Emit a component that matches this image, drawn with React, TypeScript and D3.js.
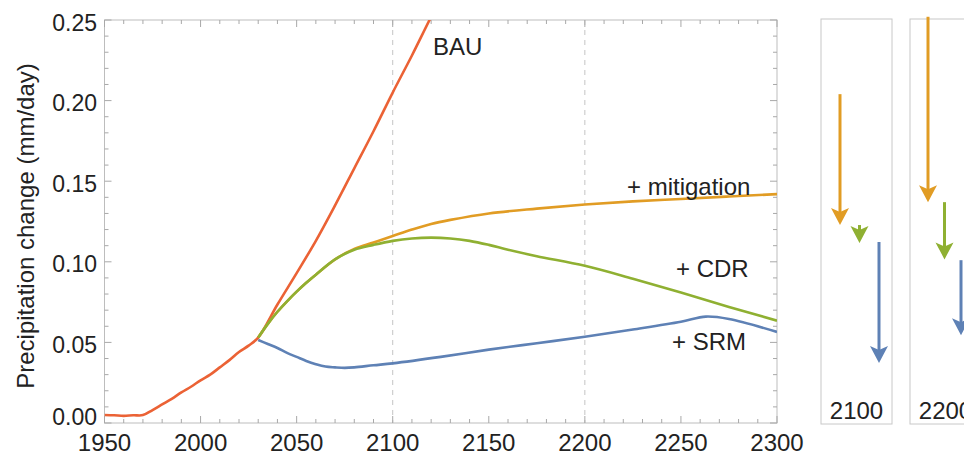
import React from "react";
import * as d3 from "d3";

// ---------- data ----------
const bauYears = [1950, 1955, 1960, 1965, 1970, 1975, 1980, 1985, 1990, 1995, 2000, 2005, 2010, 2015, 2020, 2025, 2030, 2040, 2050, 2060, 2070, 2080, 2090, 2100, 2110, 2120, 2130];
const bauValues = [0.005, 0.0048, 0.0044, 0.0048, 0.0049, 0.008, 0.0115, 0.015, 0.019, 0.0225, 0.0265, 0.030, 0.0345, 0.039, 0.044, 0.048, 0.053, 0.0735, 0.093, 0.113, 0.135, 0.158, 0.181, 0.205, 0.228, 0.252, 0.275];

const mitYears = [2030, 2035, 2040, 2045, 2050, 2055, 2060, 2070, 2080, 2090, 2100, 2110, 2120, 2130, 2150, 2175, 2200, 2225, 2250, 2275, 2300];
const mitValues = [0.053, 0.0615, 0.069, 0.0755, 0.0815, 0.087, 0.092, 0.1015, 0.108, 0.112, 0.116, 0.120, 0.1235, 0.126, 0.130, 0.133, 0.1355, 0.1375, 0.139, 0.1405, 0.142];

const cdrYears = [2030, 2035, 2040, 2045, 2050, 2055, 2060, 2070, 2080, 2090, 2100, 2110, 2120, 2130, 2140, 2150, 2160, 2175, 2200, 2225, 2250, 2275, 2300];
const cdrValues = [0.053, 0.0615, 0.069, 0.0755, 0.0815, 0.087, 0.092, 0.1015, 0.1075, 0.1105, 0.113, 0.1145, 0.115, 0.1145, 0.113, 0.1105, 0.1075, 0.1035, 0.0975, 0.0895, 0.081, 0.072, 0.0635];

const srmYears = [2030, 2035, 2040, 2045, 2050, 2055, 2060, 2065, 2070, 2075, 2080, 2090, 2100, 2125, 2150, 2175, 2200, 2225, 2250, 2263, 2275, 2300];
const srmValues = [0.0515, 0.049, 0.0465, 0.0435, 0.041, 0.0385, 0.0365, 0.035, 0.0345, 0.0342, 0.0345, 0.0358, 0.037, 0.041, 0.0455, 0.0495, 0.0535, 0.058, 0.0628, 0.066, 0.0645, 0.0565];

const seriesNames = ["BAU", "+ mitigation", "+ CDR", "+ SRM"];
const seriesColors = ["#EB6235", "#E19C24", "#8FB032", "#5E81B5"];

const xTickValues = [1950, 2000, 2050, 2100, 2150, 2200, 2250, 2300];
const yTickValues = [0, 0.05, 0.1, 0.15, 0.2, 0.25];
const gridYears = [2100, 2200];

// arrow panels: [from, to] values for mitigation, CDR, SRM steps
const panelYears = ["2100", "2200"];
const arrowKeys = ["mitigation", "CDR", "SRM"];
const arrows2100From = [0.204, 0.1228, 0.1123];
const arrows2100To = [0.1228, 0.1117, 0.0372];
const arrows2200From = [0.252, 0.137, 0.101];
const arrows2200To = [0.137, 0.1015, 0.0545];

// ---------- layout ----------
const W = 964, H = 457;
const PL = 104.5, PR = 777, PT = 20, PB = 423;
const FONT = "'Liberation Sans', Arial, Helvetica, sans-serif";

export default function App() {
  const x = d3.scaleLinear().domain([1950, 2300]).range([PL, PR]);
  const y = d3.scaleLinear().domain([0, 0.25]).range([PB, PT]);

  const line = d3
    .line<[number, number]>()
    .x((d) => x(d[0]))
    .y((d) => y(d[1]))
    .curve(d3.curveCatmullRom.alpha(0.5));

  const zip = (a: number[], b: number[]) => a.map((v, i) => [v, b[i]] as [number, number]);
  const series = [
    zip(bauYears, bauValues),
    zip(mitYears, mitValues),
    zip(cdrYears, cdrValues),
    zip(srmYears, srmValues),
  ];

  const xMinor = d3.range(1950, 2301, 10);
  const yMinor = d3.range(0, 0.2501, 0.01);
  const tickColor = "#a8a8a8";

  const panels = [
    { label: panelYears[0], left: 821, from: arrows2100From, to: arrows2100To, xr: [19, 58] },
    { label: panelYears[1], left: 910, from: arrows2200From, to: arrows2200To, xr: [18, 51] },
  ];
  const panelW = 71;
  const arrowColors = [seriesColors[1], seriesColors[2], seriesColors[3]];

  const head = (cx: number, tipY: number) => {
    const hw = 9, hl = 17, notch = 4;
    return `M${cx},${tipY} L${cx - hw},${tipY - hl} L${cx},${tipY - hl + notch} L${cx + hw},${tipY - hl} Z`;
  };

  return (
    <svg width={W} height={H} style={{ position: "absolute", left: 0, top: 0, background: "#fff" }} fontFamily={FONT}>
      <defs>
        <clipPath id="plotclip">
          <rect x={PL} y={PT} width={PR - PL} height={PB - PT} />
        </clipPath>
        <clipPath id="pageclip">
          <rect x={0} y={0} width={W} height={H} />
        </clipPath>
      </defs>

      {/* grid */}
      {gridYears.map((g) => (
        <line key={g} x1={x(g)} x2={x(g)} y1={PT} y2={PB} stroke="#c4c4c4" strokeWidth={1} strokeDasharray="5,5" />
      ))}

      {/* frame */}
      <rect x={PL} y={PT} width={PR - PL} height={PB - PT} fill="none" stroke="#bdbdbd" strokeWidth={1} />

      {/* ticks */}
      {xMinor.map((t) => {
        const major = t % 50 === 0;
        const len = major ? 7 : 4;
        return (
          <g key={"xt" + t} stroke={tickColor} strokeWidth={1}>
            <line x1={x(t)} x2={x(t)} y1={PB} y2={PB - len} />
            <line x1={x(t)} x2={x(t)} y1={PT} y2={PT + len} />
          </g>
        );
      })}
      {yMinor.map((t, i) => {
        const major = i % 5 === 0;
        const len = major ? 7 : 4;
        return (
          <g key={"yt" + i} stroke={tickColor} strokeWidth={1}>
            <line x1={PL} x2={PL + len} y1={y(t)} y2={y(t)} />
            <line x1={PR} x2={PR - len} y1={y(t)} y2={y(t)} />
          </g>
        );
      })}

      {/* tick labels */}
      {xTickValues.map((t) => (
        <text key={"xl" + t} x={x(t)} y={451} textAnchor="middle" fontSize={24} fill="#222">
          {t}
        </text>
      ))}
      {yTickValues.map((t) => (
        <text
          key={"yl" + t}
          x={97}
          y={t === 0 ? y(t) - 6 : y(t) + 2.5}
          dy="0.35em"
          textAnchor="end"
          fontSize={23}
          fill="#222"
        >
          {d3.format(".2f")(t)}
        </text>
      ))}

      {/* axis title */}
      <text transform={`translate(34,226) rotate(-90)`} textAnchor="middle" fontSize={24} fill="#222">
        Precipitation change (mm/day)
      </text>

      {/* series */}
      <g clipPath="url(#plotclip)">
        {series.map((s, i) => (
          <path key={i} d={line(s) || ""} fill="none" stroke={seriesColors[i]} strokeWidth={2.6} strokeLinejoin="round" />
        ))}
      </g>

      {/* series labels */}
      <text x={433} y={55} fontSize={24} fill="#222">{seriesNames[0]}</text>
      <text x={627} y={195} fontSize={24} fill="#222">{seriesNames[1]}</text>
      <text x={676} y={277} fontSize={24} fill="#222">{seriesNames[2]}</text>
      <text x={672} y={350} fontSize={24} fill="#222">{seriesNames[3]}</text>

      {/* arrow panels */}
      <g clipPath="url(#pageclip)">
        {panels.map((p) => {
          const ax = d3.scalePoint<string>().domain(arrowKeys).range(p.xr as [number, number]);
          return (
            <g key={p.label}>
              <rect x={p.left} y={PT - 1} width={panelW} height={PB - PT + 2} fill="none" stroke="#c8c8c8" strokeWidth={1} />
              {arrowKeys.map((k, i) => {
                const cx = p.left + (ax(k) as number);
                const y0 = y(p.from[i]);
                const y1 = y(p.to[i]);
                return (
                  <g key={k}>
                    {y1 - y0 > 15 && (
                      <line x1={cx} x2={cx} y1={y0} y2={y1 - 11} stroke={arrowColors[i]} strokeWidth={3} />
                    )}
                    <path d={head(cx, y1)} fill={arrowColors[i]} />
                  </g>
                );
              })}
              <text x={p.left + panelW / 2} y={419} textAnchor="middle" fontSize={24} fill="#222">
                {p.label}
              </text>
            </g>
          );
        })}
      </g>
    </svg>
  );
}
